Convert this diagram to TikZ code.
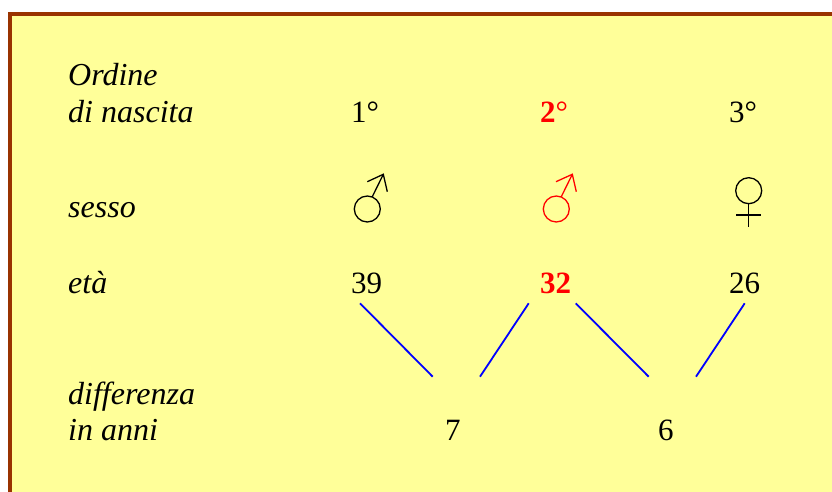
\documentclass[tikz,border=0pt]{standalone}
\usepackage{fontspec}
\setmainfont{Liberation Serif}
\definecolor{sfondo}{HTML}{FFFF99}
\definecolor{cornice}{HTML}{993300}
\tikzset{
    testo/.style={anchor=base west, inner sep=0pt, font=\fontsize{31}{36}\selectfont},
    voce/.style={testo, align=left, font=\fontsize{32}{36}\selectfont\itshape},
    rosso/.style={testo, text=red},
    ramo/.style={draw=blue, line width=1.8pt},
    simbolo/.style={line width=1.3pt}
}
\begin{document}
\begin{tikzpicture}[x=1pt, y=-1pt]
    \useasboundingbox (0,0) rectangle (832,492);

    % 1. Sfondo e cornice
    \fill[sfondo] (8,12) rectangle (832,492);
    \fill[cornice] (8,12) rectangle (832,16);
    \fill[cornice] (8,12) rectangle (12,492);

    % 2. Etichette a sinistra
    \node[voce] (ordine) at (68,122) {Ordine\\di nascita};
    \node[voce] (sesso) at (68,217) {sesso};
    \node[voce] (eta) at (68,293) {età};
    \node[voce] (differenza) at (68,440) {differenza\\in anni};

    % 3. Ordine di nascita
    \node[testo] (primo) at (351,122) {1°};
    \node[rosso] (secondo) at (540,122) {\textbf{2}°};
    \node[testo] (terzo) at (729,122) {3°};

    % 4. Simboli del sesso
    \draw[simbolo] (367.3,209) circle (13);
    \draw[simbolo] (372.3,196.7) -- (383.3,174.3);
    \draw[simbolo] (367.3,181.7) -- (383.3,174.3) -- (387.3,191.7);

    \draw[simbolo, red] (556.3,209) circle (13);
    \draw[simbolo, red] (561.3,196.7) -- (572.3,174.3);
    \draw[simbolo, red] (556,181.7) -- (572.3,174.3) -- (576.3,191.7);

    \draw[simbolo] (748.7,190.7) circle (13);
    \draw[simbolo] (748.7,203.7) -- (748.7,227.3);
    \draw[simbolo] (736,215) -- (761.3,215);

    % 5. Età
    \node[testo] (eta1) at (351,293) {39};
    \node[rosso] (eta2) at (540,293) {\textbf{32}};
    \node[testo] (eta3) at (729,293) {26};

    % 6. Differenze
    \node[testo] (diff1) at (445,440) {7};
    \node[testo] (diff2) at (658,440) {6};

    % 7. Rami tra età e differenze
    \coordinate (a1) at (360,303.3);
    \coordinate (b1) at (432.7,376.7);
    \coordinate (a2) at (528.7,303.3);
    \coordinate (b2) at (480,376.7);
    \coordinate (a3) at (575.7,303.3);
    \coordinate (b3) at (648.7,376.7);
    \coordinate (a4) at (744.7,303.3);
    \coordinate (b4) at (696,376.7);
    \draw[ramo] (a1) -- (b1);
    \draw[ramo] (a2) -- (b2);
    \draw[ramo] (a3) -- (b3);
    \draw[ramo] (a4) -- (b4);
\end{tikzpicture}
\end{document}
